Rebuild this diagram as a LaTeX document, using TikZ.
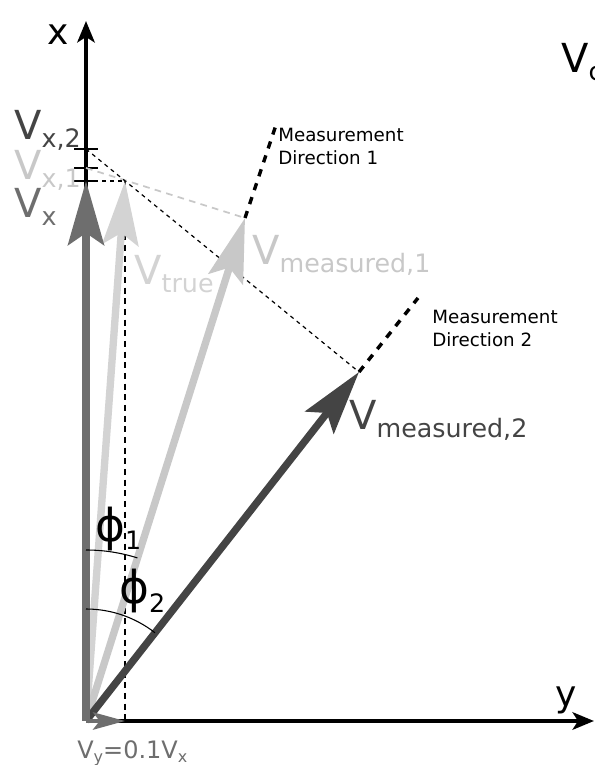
\documentclass[tikz,border=0pt]{standalone}
\usepackage{fontspec}
\setmainfont{DejaVu Sans}
\usetikzlibrary{arrows.meta}

\definecolor{vxgray}{HTML}{6E6E6E}
\definecolor{truegray}{HTML}{D3D3D3}
\definecolor{measonegray}{HTML}{C8C8C8}
\definecolor{meastwogray}{HTML}{444444}
\newcommand\vsub[2]{#1\raisebox{-6pt}{\fontsize{19}{19}\selectfont #2}}
\newcommand\smallsub[2]{#1\raisebox{-3pt}{\fontsize{12}{12}\selectfont #2}}

\begin{document}
\begin{tikzpicture}[x=0.75pt,y=0.75pt,
  axis/.style={line width=3pt, -{Stealth[length=16pt,width=13pt,inset=4pt]}},
  vec/.style={line width=5.5pt, -{Stealth[length=48pt,width=27pt,inset=9pt]}},
  proj/.style={dashed, line width=0.9pt},
  mdir/.style={line width=2.6pt, dash pattern=on 5.5pt off 5.5pt},
  tick/.style={line width=0.8pt},
  big/.style={font=\fontsize{30}{31}\selectfont, inner sep=0pt, anchor=base west},
  note/.style={font=\fontsize{13.7}{17.5}\selectfont, align=left, inner sep=0pt, anchor=north west}
]
\useasboundingbox (0,0) rectangle (594,765);

% points
\coordinate (O) at (86,44);
\coordinate (xtip) at (86,744);
\coordinate (ytip) at (594,44);
\coordinate (vx) at (86,584);
\coordinate (vtrue) at (125,584);
\coordinate (vmone) at (245,547);
\coordinate (vmtwo) at (359,393);
\coordinate (dirone) at (277,643);
\coordinate (dirtwo) at (418,467);
\coordinate (xone) at (86,597);
\coordinate (xtwo) at (86,616);
\coordinate (foot) at (125,44);

% axes
\draw[axis] (O) -- (xtip);
\draw[axis] (O) -- (ytip);
\node[font=\fontsize{27}{28}\selectfont, anchor=base] (xlab) at (58,720) {x};
\node[font=\fontsize{27}{28}\selectfont, anchor=base] (ylab) at (566,58) {y};

% ticks on the x axis
\foreach \t in {xtwo,xone,vx}
  \draw[tick] ([xshift=-9]\t) -- ([xshift=9]\t);

% projections
\draw[proj, line width=1.4pt, dash pattern=on 4.5pt off 3.5pt] (vtrue) -- (foot);
\draw[proj, line width=1.2pt] (vx) -- (vtrue);
\draw[proj, line width=1.3pt, draw=measonegray, dash pattern=on 5pt off 4pt] (xone) -- (vmone);
\draw[proj] (xtwo) -- (vmtwo);

% measurement directions
\draw[mdir] (vmone) -- (dirone);
\draw[mdir] (vmtwo) -- (dirtwo);
\node[note] (noteone) at (278,637) {Measurement\\Direction 1};
\node[note] (notetwo) at (432,455) {Measurement\\Direction 2};

% vectors
\draw[vec, truegray] (O) -- (vtrue);
\draw[vec, measonegray] (O) -- (vmone);
\draw[vec, meastwogray] (O) -- (vmtwo);
\draw[vec, vxgray] (O) -- (vx);
\draw[line width=3pt, vxgray, -{Stealth[length=24pt,width=13pt,inset=5pt]}] (O) -- (foot);

% angles
\draw[line width=0.8pt] ([shift={(90:171)}]O) arc[start angle=90, end angle=72.5, radius=171];
\draw[line width=0.8pt] ([shift={(90:112)}]O) arc[start angle=90, end angle=52, radius=112];
\node[big, font=\fontsize{34}{35}\selectfont] (phione) at (95,223) {\vsub{ϕ}{1}};
\node[big, font=\fontsize{34}{35}\selectfont] (phitwo) at (119,161) {\vsub{ϕ}{2}};

% labels
\node[big, text=meastwogray] (lxtwo) at (14,625) {\vsub{V}{x,2}};
\node[big, text=measonegray] (lxone) at (14,585) {\vsub{V}{x,1}};
\node[big, text=vxgray] (lx) at (14,547) {\vsub{V}{x}};
\node[big, text=truegray] (ltrue) at (134,480) {\vsub{V}{true}};
\node[big, text=measonegray] (lmone) at (252,500) {\vsub{V}{measured,1}};
\node[big, text=meastwogray] (lmtwo) at (349,335) {\vsub{V}{measured,2}};
\node[big] (lc) at (561,692) {\vsub{V}{c}};
\node[font=\fontsize{18}{19}\selectfont, text=vxgray, inner sep=0pt, anchor=base west] (ly) at (77,7)
  {\smallsub{V}{y}=0.1\smallsub{V}{x}};
\end{tikzpicture}
\end{document}
